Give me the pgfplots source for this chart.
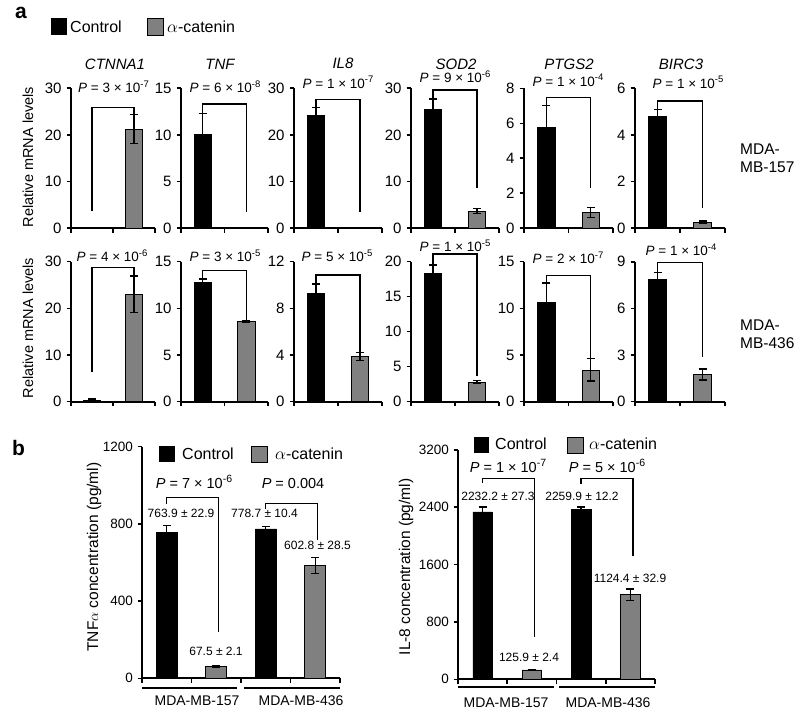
\documentclass[border=0pt]{standalone}
\usepackage{fontspec}
\setmainfont{Liberation Sans}
\usepackage{pgfplots}
\pgfplotsset{compat=1.18}
\definecolor{cgray}{RGB}{128,128,128}
\newcommand\fs[1]{\fontsize{#1}{#1}\selectfont}
\newcommand\sups[2]{\raisebox{0.42em}{\fontsize{#1}{#1}\selectfont #2}}
\newcommand\pv[2]{\textit{P} = #1 × 10\sups{9.5}{-#2}}
\newcommand\pvb[2]{\textit{P} = #1 × 10\sups{10.5}{-#2}}
\tikzset{brk/.style={line width=1.4pt}}

\pgfplotsset{
 base/.style={scale only axis, anchor=south west, ymin=0,
   axis x line*=bottom, axis y line*=left, tick align=outside,
   major tick length=4.5pt, major tick style={line width=1.6pt, black},
   axis line style={line width=2.2pt}, xticklabels={},
   scaled y ticks=false,
   /pgf/number format/assume math mode=true,
   /pgf/number format/1000 sep={},
   clip=false},
 gp/.style={base, height=140pt, xmin=0, xmax=2, xtick={0,1,2}, yticklabel style={font=\fs{15}, xshift=-1.5pt}},
 bp/.style={base, xmin=0, xmax=4, xtick={0,1,2,3,4}, yticklabel style={font=\fs{13.5}, xshift=-1pt}},
 errs/.style={error bars/.cd, y dir=both, y explicit, error bar style={line width=1.4pt, black}, error mark options={rotate=90, mark size=4pt, line width=1.4pt, black}},
 barC/.style={ybar, bar shift=0pt, bar width=17.5pt, fill=black, draw=black, line width=0.6pt},
 barA/.style={ybar, bar shift=0pt, bar width=17.5pt, fill=cgray, draw=black, line width=0.7pt},
}

\begin{document}
\begin{tikzpicture}
\useasboundingbox (0,0) rectangle (800pt,715pt);

% ---------- Row 1 (MDA-MB-157) ----------
\begin{axis}[gp, at={(71pt,486.7pt)}, width=84pt, ymax=30, ytick={0,10,20,30}]
\addplot[barC] coordinates {(0.5,0.05)};
\addplot[barA, errs] coordinates {(1.5,21.3) +- (0,3.1)};
\draw[brk] (axis cs:0.5,3.6) -- (axis cs:0.5,25.9) -- (axis cs:1.5,25.9) -- (axis cs:1.5,24.4);
\end{axis}
\begin{axis}[gp, at={(181pt,486.7pt)}, width=87pt, ymax=15, ytick={0,5,10,15}]
\addplot[barC, errs] coordinates {(0.5,10.1) +- (0,2.2)};
\addplot[barA] coordinates {(1.5,0.08)};
\draw[brk] (axis cs:0.5,12.3) -- (axis cs:0.5,13.3) -- (axis cs:1.5,13.3) -- (axis cs:1.5,1.7);
\end{axis}
\begin{axis}[gp, at={(294pt,486.7pt)}, width=88pt, ymax=30, ytick={0,10,20,30}]
\addplot[barC, errs] coordinates {(0.5,24.2) +- (0,1.7)};
\addplot[barA] coordinates {(1.5,0.12)};
\draw[brk] (axis cs:0.5,25.9) -- (axis cs:0.5,27.6) -- (axis cs:1.5,27.6) -- (axis cs:1.5,3.4);
\end{axis}
\begin{axis}[gp, at={(411pt,486.7pt)}, width=88pt, ymax=30, ytick={0,10,20,30}]
\addplot[barC, errs] coordinates {(0.5,25.5) +- (0,2.2)};
\addplot[barA, errs] coordinates {(1.5,3.7) +- (0,0.5)};
\draw[brk] (axis cs:0.5,27.7) -- (axis cs:0.5,29.6) -- (axis cs:1.5,29.6) -- (axis cs:1.5,8.6);
\end{axis}
\begin{axis}[gp, at={(524pt,486.7pt)}, width=89pt, ymax=8, ytick={0,2,4,6,8}]
\addplot[barC, errs] coordinates {(0.5,5.77) +- (0,1.25)};
\addplot[barA, errs] coordinates {(1.5,0.9) +- (0,0.3)};
\draw[brk] (axis cs:0.5,7.05) -- (axis cs:0.5,7.49) -- (axis cs:1.5,7.49) -- (axis cs:1.5,2.29);
\end{axis}
\begin{axis}[gp, at={(635pt,486.7pt)}, width=90pt, ymax=6, ytick={0,2,4,6}]
\addplot[barC, errs] coordinates {(0.5,4.78) +- (0,0.32)};
\addplot[barA, errs] coordinates {(1.5,0.26) +- (0,0.05)};
\draw[brk] (axis cs:0.5,5.1) -- (axis cs:0.5,5.46) -- (axis cs:1.5,5.46) -- (axis cs:1.5,0.86);
\end{axis}

% ---------- Row 2 (MDA-MB-436) ----------
\begin{axis}[gp, at={(71pt,313.3pt)}, width=84pt, ymax=30, ytick={0,10,20,30}]
\addplot[barC, errs] coordinates {(0.5,0.4) +- (0,0.15)};
\addplot[barA, errs] coordinates {(1.5,23.0) +- (0,3.9)};
\draw[brk] (axis cs:0.5,6.3) -- (axis cs:0.5,28.8) -- (axis cs:1.5,28.8) -- (axis cs:1.5,26.9);
\end{axis}
\begin{axis}[gp, at={(181pt,313.3pt)}, width=87pt, ymax=15, ytick={0,5,10,15}]
\addplot[barC, errs] coordinates {(0.5,12.74) +- (0,0.4)};
\addplot[barA, errs] coordinates {(1.5,8.6) +- (0,0.1)};
\draw[brk] (axis cs:0.5,13.2) -- (axis cs:0.5,14.07) -- (axis cs:1.5,14.07) -- (axis cs:1.5,8.75);
\end{axis}
\begin{axis}[gp, at={(294pt,313.3pt)}, width=88pt, ymax=12, ytick={0,4,8,12}]
\addplot[barC, errs] coordinates {(0.5,9.3) +- (0,0.8)};
\addplot[barA, errs] coordinates {(1.5,3.87) +- (0,0.35)};
\draw[brk] (axis cs:0.5,10.1) -- (axis cs:0.5,10.85) -- (axis cs:1.5,10.85) -- (axis cs:1.5,4.2);
\end{axis}
\begin{axis}[gp, at={(411pt,313.3pt)}, width=88pt, ymax=20, ytick={0,5,10,15,20}]
\addplot[barC, errs] coordinates {(0.5,18.3) +- (0,1.2)};
\addplot[barA, errs] coordinates {(1.5,2.8) +- (0,0.2)};
\draw[brk] (axis cs:0.5,19.5) -- (axis cs:0.5,21.1) -- (axis cs:1.5,21.1) -- (axis cs:1.5,3.7);
\end{axis}
\begin{axis}[gp, at={(524pt,313.3pt)}, width=89pt, ymax=15, ytick={0,5,10,15}]
\addplot[barC, errs] coordinates {(0.5,10.7) +- (0,2.0)};
\addplot[barA, errs] coordinates {(1.5,3.4) +- (0,1.2)};
\draw[brk] (axis cs:0.5,12.75) -- (axis cs:0.5,13.5) -- (axis cs:1.5,13.5) -- (axis cs:1.5,4.67);
\end{axis}
\begin{axis}[gp, at={(635pt,313.3pt)}, width=90pt, ymax=9, ytick={0,3,6,9}]
\addplot[barC, errs] coordinates {(0.5,7.9) +- (0,0.4)};
\addplot[barA, errs] coordinates {(1.5,1.75) +- (0,0.35)};
\draw[brk] (axis cs:0.5,8.3) -- (axis cs:0.5,8.94) -- (axis cs:1.5,8.94) -- (axis cs:1.5,2.9);
\end{axis}

% ---------- Panel b: TNF alpha ----------
\begin{axis}[bp, at={(142pt,36.7pt)}, width=198pt, height=231.6pt, ymax=1200, ytick={0,400,800,1200}]
\addplot[barC, bar width=21pt, errs] coordinates {(0.5,757) +- (0,36) (2.5,774) +- (0,14)};
\addplot[barA, bar width=21pt, errs] coordinates {(1.5,63.5) +- (0,4) (3.5,585) +- (0,41)};
\draw[brk] (axis cs:0.5,905) -- (axis cs:0.5,936) -- (axis cs:1.55,936) -- (axis cs:1.55,240);
\draw[brk] (axis cs:2.5,879) -- (axis cs:2.5,906) -- (axis cs:3.55,906) -- (axis cs:3.55,714);
\draw[line width=2.2pt] ([yshift=-9.7pt]axis cs:0,0) -- ([yshift=-9.7pt]axis cs:1.92,0);
\draw[line width=2.2pt] ([yshift=-9.7pt]axis cs:2.06,0) -- ([yshift=-9.7pt]axis cs:4,0);
\end{axis}

% ---------- Panel b: IL-8 ----------
\begin{axis}[bp, at={(458pt,35.7pt)}, width=197pt, height=229.5pt, ymax=3200, ytick={0,800,1600,2400,3200}]
\addplot[barC, bar width=19.5pt, errs] coordinates {(0.5,2333) +- (0,70) (2.5,2371) +- (0,32)};
\addplot[barA, bar width=19.5pt, errs] coordinates {(1.5,130) +- (0,8) (3.5,1181) +- (0,79)};
\draw[brk] (axis cs:0.5,2735) -- (axis cs:0.5,2801) -- (axis cs:1.55,2801) -- (axis cs:1.55,588);
\draw[brk] (axis cs:2.5,2721) -- (axis cs:2.5,2801) -- (axis cs:3.55,2801) -- (axis cs:3.55,1717);
\draw[line width=2.2pt] ([yshift=-7.7pt]axis cs:0,0) -- ([yshift=-7.7pt]axis cs:1.95,0);
\draw[line width=2.2pt] ([yshift=-7.7pt]axis cs:2.05,0) -- ([yshift=-7.7pt]axis cs:4,0);
\end{axis}

% ---------- Text, in pixel coordinates ----------
\begin{scope}[x=1pt, y=-1pt, shift={(0pt,715pt)}]
\node[anchor=base, font=\fs{21}\bfseries, inner sep=0] at (21,19) {a};
\node[anchor=base, font=\fs{21}\bfseries, inner sep=0] at (18.5,456) {b};
% legend a
\fill[black] (51,18) rectangle (67,35);
\filldraw[fill=cgray, draw=black, line width=0.7pt] (147,18) rectangle (163,35);
\node[anchor=base west, font=\fs{16}, inner sep=0] at (70,33) {Control};
\node[anchor=base west, font=\fs{16}, inner sep=0] at (167,33) {$\alpha$-catenin};
% gene titles
\begin{scope}[every node/.style={anchor=base, inner sep=0, font=\fs{15}\itshape}]
\node at (115,69.3) {CTNNA1};
\node at (220,69.3) {TNF};
\node at (343,68.8) {IL8};
\node at (456,69.3) {SOD2};
\node at (569,69.3) {PTGS2};
\node at (681,69.3) {BIRC3};
\end{scope}
% P values panel a
\begin{scope}[every node/.style={anchor=base, inner sep=0, font=\fs{13.5}}]
\node at (113.5,92.7) {\pv{3}{7}};
\node at (225,92.7) {\pv{6}{8}};
\node at (338,88.3) {\pv{1}{7}};
\node at (455,83) {\pv{9}{6}};
\node at (568,86.5) {\pv{1}{4}};
\node at (688,88.3) {\pv{1}{5}};
\node at (112,261.7) {\pv{4}{6}};
\node at (225,261.7) {\pv{3}{5}};
\node at (337,261.7) {\pv{5}{5}};
\node at (455,251.7) {\pv{1}{5}};
\node at (568,264) {\pv{2}{7}};
\node at (681,255.7) {\pv{1}{4}};
\end{scope}
% side labels
\begin{scope}[every node/.style={anchor=base west, inner sep=0, font=\fs{15.5}}]
\node at (740,155) {MDA-};
\node at (740,172.7) {MB-157};
\node at (740,331) {MDA-};
\node at (740,349) {MB-436};
\end{scope}
% y labels panel a
\node[anchor=base, rotate=90, inner sep=0, font=\fs{14.5}] at (33,157) {Relative mRNA levels};
\node[anchor=base, rotate=90, inner sep=0, font=\fs{14.5}] at (33,328) {Relative mRNA levels};
% legend b
\fill[black] (159,446) rectangle (175,462);
\filldraw[fill=cgray, draw=black, line width=0.7pt] (251,446) rectangle (267,462);
\node[anchor=base west, font=\fs{16}, inner sep=0] at (182,460) {Control};
\node[anchor=base west, font=\fs{16}, inner sep=0] at (275,460) {$\alpha$-catenin};
\fill[black] (474,437) rectangle (489,453);
\filldraw[fill=cgray, draw=black, line width=0.7pt] (567,437) rectangle (583,453);
\node[anchor=base west, font=\fs{16}, inner sep=0] at (495,450) {Control};
\node[anchor=base west, font=\fs{16}, inner sep=0] at (589,450) {$\alpha$-catenin};
% P values b
\begin{scope}[every node/.style={anchor=base, inner sep=0, font=\fs{14.5}}]
\node at (194,488.3) {\pvb{7}{6}};
\node at (293,489) {\textit{P} = 0.004};
\node at (508,473) {\pvb{1}{7}};
\node at (607,473) {\pvb{5}{6}};
\end{scope}
% value labels b
\begin{scope}[every node/.style={anchor=base, inner sep=0, font=\fs{12}}]
\node at (181,517.7) {763.9 ± 22.9};
\node at (264.5,517.7) {778.7 ± 10.4};
\node at (317.5,550) {602.8 ± 28.5};
\node at (216,655) {67.5 ± 2.1};
\node at (498,500.7) {2232.2 ± 27.3};
\node at (582,500.7) {2259.9 ± 12.2};
\node at (630,583) {1124.4 ± 32.9};
\node at (529,661.7) {125.9 ± 2.4};
\end{scope}
% x labels b
\begin{scope}[every node/.style={anchor=base, inner sep=0, font=\fs{14}}]
\node at (197,705) {MDA-MB-157};
\node at (301,705) {MDA-MB-436};
\node at (506,707) {MDA-MB-157};
\node at (608,707) {MDA-MB-436};
\end{scope}
% y labels b
\node[anchor=base, rotate=90, inner sep=0, font=\fs{15.5}] at (98,557) {TNF$\alpha$ concentration (pg/ml)};
\node[anchor=base, rotate=90, inner sep=0, font=\fs{15.5}] at (410,567) {IL-8 concentration (pg/ml)};
\end{scope}
\end{tikzpicture}
\end{document}
